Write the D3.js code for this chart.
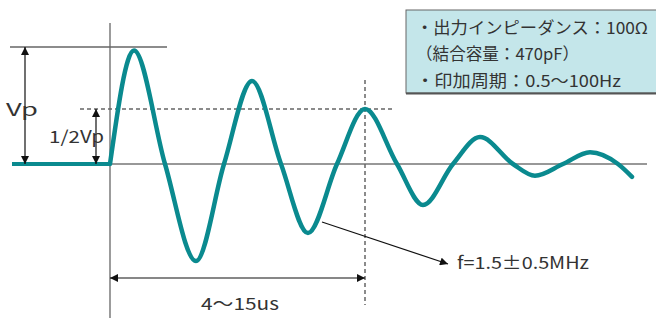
<!DOCTYPE html>
<html>
<head>
<meta charset="utf-8">
<script src="https://cdn.jsdelivr.net/npm/d3@7"></script>
<style>
  body { margin: 0; background: #fff; }
  text { font-family: "Noto Sans CJK JP", "Noto Sans", sans-serif; fill: #333; }
</style>
</head>
<body>
<div id="chart"></div>
<script>
// time (arbitrary units, 0 = pulse start) and amplitude (1 = Vp)
var leadT = [-0.98, 0]
var leadV = [0, 0]
var waveT = [0, 0.24, 0.55, 0.86, 1.14, 1.42, 1.71, 1.98, 2.27, 2.55, 2.87, 3.13, 3.43, 3.70, 4.03, 4.25, 4.53, 4.80, 5.08, 5.22]
var waveV = [0, 0.97, 0, -0.83, 0, 0.71, 0, -0.59, 0, 0.47, 0, -0.35, 0, 0.23, 0, -0.10, 0, 0.10, 0, -0.11]

var boxLines = ["・出力インピーダンス：100Ω", "（結合容量：470pF）", "・印加周期：0.5～100Hz"]
var periodLabel = "4～15us"
var freqLabel = "f=1.5±0.5MHz"

;(function() {
  var width = 656, height = 318

  var svg = d3.select("#chart")
    .append("svg")
    .attr("width", width)
    .attr("height", height)

  var x = d3.scaleLinear().domain([0, 1]).range([110, 210])
  var y = d3.scaleLinear().domain([0, 1]).range([164, 47])

  var defs = svg.append("defs")
  defs.append("marker")
    .attr("id", "arr")
    .attr("viewBox", "0 0 10 10")
    .attr("refX", 10).attr("refY", 5)
    .attr("markerWidth", 9).attr("markerHeight", 8)
    .attr("markerUnits", "userSpaceOnUse")
    .attr("orient", "auto-start-reverse")
    .append("path")
    .attr("d", "M0,0L10,5L0,10Z")
    .attr("fill", "#111")

  var peak3 = 9 // index of the peak the dashed lines mark
  var halfV = waveV[peak3], halfT = waveT[peak3]

  // reference lines
  svg.append("line")
    .attr("x1", x(0)).attr("x2", x(0))
    .attr("y1", 23).attr("y2", height)
    .attr("stroke", "#666").attr("stroke-width", 1.3)
  svg.append("line")
    .attr("x1", x(0)).attr("x2", 647)
    .attr("y1", y(0)).attr("y2", y(0))
    .attr("stroke", "#333").attr("stroke-width", 1.2)
  svg.append("line")
    .attr("x1", 10).attr("x2", 167)
    .attr("y1", y(1)).attr("y2", y(1))
    .attr("stroke", "#666").attr("stroke-width", 1.3)
  svg.append("line")
    .attr("x1", 80).attr("x2", 393)
    .attr("y1", y(halfV)).attr("y2", y(halfV))
    .attr("stroke", "#666").attr("stroke-width", 1.5)
    .attr("stroke-dasharray", "4,3")
  svg.append("line")
    .attr("x1", x(halfT)).attr("x2", x(halfT))
    .attr("y1", 80).attr("y2", 305)
    .attr("stroke", "#666").attr("stroke-width", 1.5)
    .attr("stroke-dasharray", "4,3")

  // the wave
  var line = d3.line()
    .x(function(d) { return x(d[0]) })
    .y(function(d) { return y(d[1]) })

  svg.append("path")
    .datum(d3.zip(leadT, leadV))
    .attr("d", line)
    .attr("fill", "none")
    .attr("stroke", "#0a8a8f")
    .attr("stroke-width", 4)

  svg.append("path")
    .datum(d3.zip(waveT, waveV))
    .attr("d", line.curve(d3.curveMonotoneX))
    .attr("fill", "none")
    .attr("stroke", "#0a8a8f")
    .attr("stroke-width", 4.5)
    .attr("stroke-linecap", "round")

  // dimension arrows
  function arrow(x1, y1, x2, y2, both) {
    var l = svg.append("line")
      .attr("x1", x1).attr("y1", y1).attr("x2", x2).attr("y2", y2)
      .attr("stroke", "#111").attr("stroke-width", 1.2)
      .attr("marker-end", "url(#arr)")
    if (both) l.attr("marker-start", "url(#arr)")
  }
  arrow(25, y(1), 25, y(0), true)
  arrow(96, y(halfV), 96, y(0), true)
  arrow(x(0), 278, x(halfT), 278, true)
  arrow(322, 222, 448, 264, false)

  // the source font is very wide, so stretch the labels to its widths
  function label(tx, ty, len, s, size) {
    return svg.append("text")
      .attr("x", tx).attr("y", ty)
      .attr("font-size", size || 17)
      .attr("textLength", len)
      .attr("lengthAdjust", "spacingAndGlyphs")
      .text(s)
  }
  label(6, 116, 32, "Vp")
  label(49, 143, 55, "1/2Vp")
  label(201, 310, 78, periodLabel)
  label(457, 269, 132, freqLabel)

  // spec box
  svg.append("rect")
    .attr("x", 406).attr("y", 10)
    .attr("width", 260).attr("height", 83)
    .attr("fill", "#c4e6ea")
    .attr("stroke", "#666").attr("stroke-width", 1)
  svg.append("line")
    .attr("x1", 406).attr("x2", 656)
    .attr("y1", 93.5).attr("y2", 93.5)
    .attr("stroke", "#555").attr("stroke-width", 2)

  var boxLen = [232, 163, 205]
  boxLines.forEach(function(d, i) {
    label(416, 33.5 + i * 26.5, boxLen[i], d, 16.5)
  })
})();
</script>
</body>
</html>
